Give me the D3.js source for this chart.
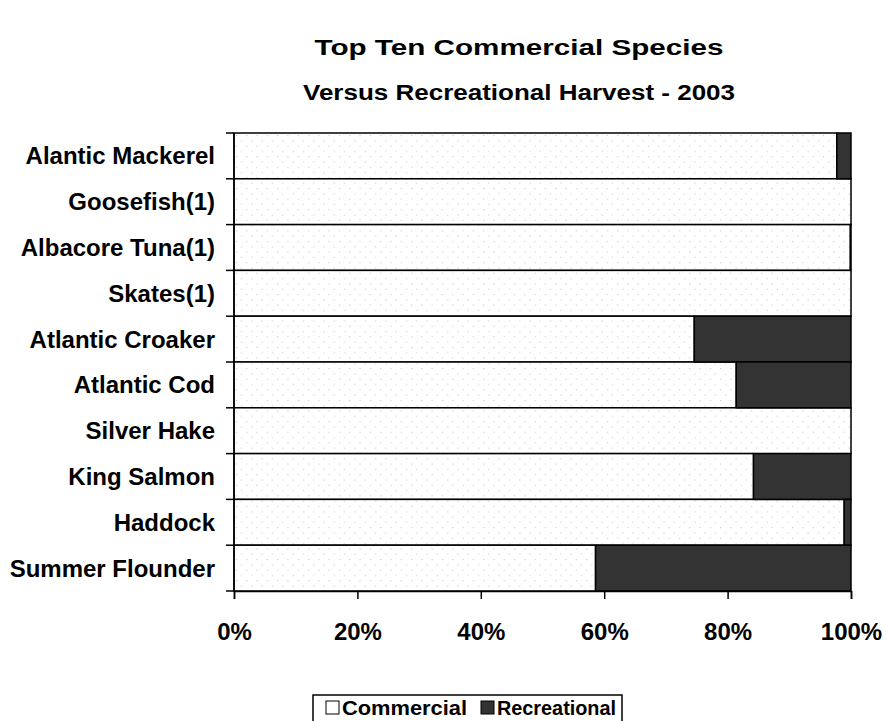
<!DOCTYPE html>
<html>
<head>
<meta charset="utf-8">
<script src="https://cdn.jsdelivr.net/npm/d3@7"></script>
<style>
  body { margin: 0; background: #fff; }
  text { font-family: "Liberation Sans", Arial, sans-serif; font-weight: bold; fill: #000; }
</style>
</head>
<body>
<svg id="chart" width="886" height="721"></svg>
<script>
// species, top to bottom
const species = ['Alantic Mackerel', 'Goosefish(1)', 'Albacore Tuna(1)', 'Skates(1)',
  'Atlantic Croaker', 'Atlantic Cod', 'Silver Hake', 'King Salmon', 'Haddock', 'Summer Flounder'];
// share of harvest, percent
const commercial = [97.7, 100, 99.9, 100, 74.6, 81.4, 100, 84.2, 98.9, 58.6];
const recreational = [2.3, 0, 0.1, 0, 25.4, 18.6, 0, 15.8, 1.1, 41.4];
const xTicks = [0, 20, 40, 60, 80, 100];
const seriesNames = ['Commercial', 'Recreational'];

const svg = d3.select('#chart');
const margin = { top: 133, right: 35, bottom: 130, left: 234 };
const width = 886 - margin.left - margin.right;
const height = 721 - margin.top - margin.bottom;

// dotted fill for the commercial part
const defs = svg.append('defs');
const pat = defs.append('pattern')
  .attr('id', 'dots')
  .attr('patternUnits', 'userSpaceOnUse')
  .attr('width', 10.3).attr('height', 10.6);
pat.append('rect').attr('width', 10.3).attr('height', 10.6).attr('fill', '#fff');
pat.append('rect').attr('x', 2).attr('y', 2).attr('width', 1).attr('height', 1).attr('fill', '#bdbdbd');
pat.append('rect').attr('x', 7.15).attr('y', 7.3).attr('width', 1).attr('height', 1).attr('fill', '#bdbdbd');

svg.append('text').attr('x', 519).attr('y', 55).attr('text-anchor', 'middle')
  .style('font-size', '22px').attr('textLength', 409).attr('lengthAdjust', 'spacingAndGlyphs')
  .text('Top Ten Commercial Species');
svg.append('text').attr('x', 519).attr('y', 100).attr('text-anchor', 'middle')
  .style('font-size', '22px').attr('textLength', 432).attr('lengthAdjust', 'spacingAndGlyphs')
  .text('Versus Recreational Harvest - 2003');

const g = svg.append('g').attr('transform', `translate(${margin.left}, ${margin.top})`);

const x = d3.scaleLinear().domain([0, 100]).range([0, width]);
const y = d3.scaleBand().domain(species).range([0, height]).padding(0);

const rows = species.map((s, i) => ({ name: s, com: commercial[i], rec: recreational[i] }));

g.selectAll('.com').data(rows).join('rect')
  .attr('class', 'com')
  .attr('x', x(0))
  .attr('y', d => y(d.name))
  .attr('width', d => x(d.com) - x(0))
  .attr('height', y.bandwidth())
  .attr('fill', 'url(#dots)')
  .attr('stroke', '#000').attr('stroke-width', 1.5);

g.selectAll('.rec').data(rows.filter(d => d.rec > 0)).join('rect')
  .attr('class', 'rec')
  .attr('x', d => x(d.com))
  .attr('y', d => y(d.name))
  .attr('width', d => x(d.com + d.rec) - x(d.com))
  .attr('height', y.bandwidth())
  .attr('fill', '#333')
  .attr('stroke', '#000').attr('stroke-width', 1.5);

// y axis: ticks between categories
const yAxis = g.append('g');
yAxis.append('line').attr('x1', 0).attr('x2', 0).attr('y1', 0).attr('y2', height)
  .attr('stroke', '#000').attr('stroke-width', 1.5);
yAxis.selectAll('.yt').data(d3.range(species.length + 1)).join('line')
  .attr('x1', -8).attr('x2', 0)
  .attr('y1', i => i * y.step()).attr('y2', i => i * y.step())
  .attr('stroke', '#000').attr('stroke-width', 1.5);
yAxis.selectAll('.yl').data(species).join('text')
  .attr('x', -19)
  .attr('y', d => y(d) + y.bandwidth() / 2)
  .attr('dy', '0.35em')
  .attr('text-anchor', 'end')
  .style('font-size', '24px')
  .text(d => d);

// x axis
const xAxis = g.append('g').attr('transform', `translate(0, ${height})`)
  .call(d3.axisBottom(x).tickValues(xTicks).tickFormat(d => d + '%').tickSize(8).tickPadding(24));
xAxis.select('.domain').attr('stroke', '#000').attr('stroke-width', 1.5);
xAxis.selectAll('.tick line').attr('stroke', '#000').attr('stroke-width', 1.5);
xAxis.selectAll('.tick text')
  .style('font-family', '"Liberation Sans", Arial, sans-serif')
  .style('font-weight', 'bold').style('font-size', '24px').attr('fill', '#000');

// legend
const leg = svg.append('g').attr('transform', 'translate(313, 695)');
leg.append('rect').attr('x', 0).attr('y', 0).attr('width', 309).attr('height', 40)
  .attr('fill', '#fff').attr('stroke', '#000').attr('stroke-width', 1.5);
const legFill = ['#fff', '#333'];
const legX = [13, 168];
const legLen = [125, 119];
seriesNames.forEach((n, i) => {
  leg.append('rect').attr('x', legX[i]).attr('y', 6).attr('width', 13).attr('height', 13)
    .attr('fill', legFill[i]).attr('stroke', '#000').attr('stroke-width', 1);
  leg.append('text').attr('x', legX[i] + 16).attr('y', 20)
    .style('font-size', '21px').attr('textLength', legLen[i]).attr('lengthAdjust', 'spacingAndGlyphs')
    .text(n);
});
</script>
</body>
</html>
